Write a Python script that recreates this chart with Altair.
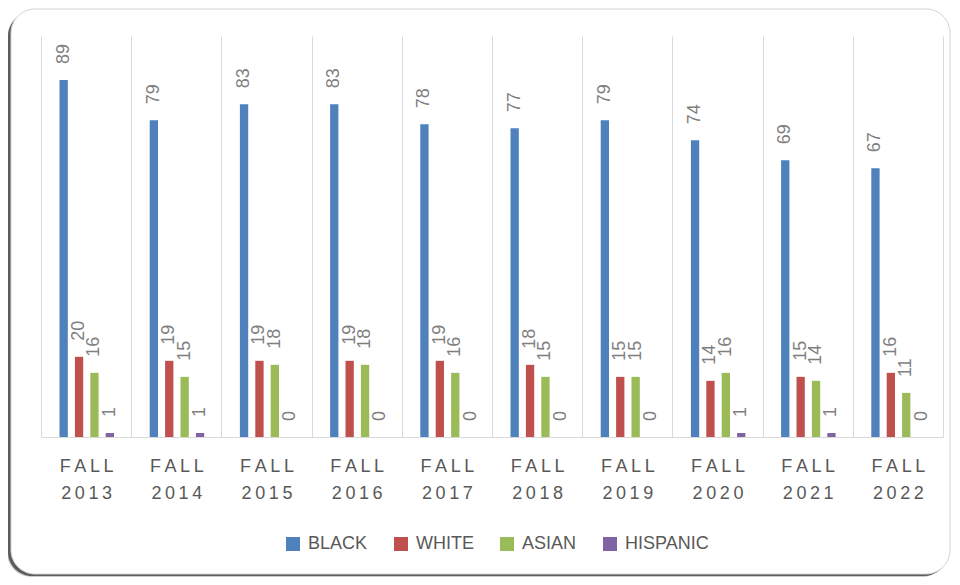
import altair as alt
import pandas as pd

categories = ["FALL 2013", "FALL 2014", "FALL 2015", "FALL 2016", "FALL 2017",
              "FALL 2018", "FALL 2019", "FALL 2020", "FALL 2021", "FALL 2022"]
series = ["BLACK", "WHITE", "ASIAN", "HISPANIC"]
black = [89, 79, 83, 83, 78, 77, 79, 74, 69, 67]
white = [20, 19, 19, 19, 19, 18, 15, 14, 15, 16]
asian = [16, 15, 18, 18, 16, 15, 15, 16, 14, 11]
hispanic = [1, 1, 0, 0, 0, 0, 0, 1, 1, 0]
colors = ["#4f81bd", "#c0504d", "#9bbb59", "#8064a2"]

rows = []
for name, vals in zip(series, [black, white, asian, hispanic]):
    for c, v in zip(categories, vals):
        rows.append({"term": c, "group": name, "value": v})
df = pd.DataFrame(rows)

W, H = 902, 401
FONT = "Liberation Sans"
TS = "\u2009"

frame_df = pd.DataFrame({"k": [0]})
shadow2 = alt.Chart(frame_df).mark_rect(color="#000000", opacity=0.2, cornerRadius=24).encode(
    x=alt.value(-34), x2=alt.value(W + 3), y=alt.value(-22), y2=alt.value(H + 140))
shadow1 = alt.Chart(frame_df).mark_rect(color="#000000", opacity=0.55, cornerRadius=24).encode(
    x=alt.value(-33), x2=alt.value(W + 5), y=alt.value(-24), y2=alt.value(H + 139))
frame = alt.Chart(frame_df).mark_rect(color="#ffffff", stroke="#d4d4d4", strokeWidth=1, cornerRadius=24).encode(
    x=alt.value(-30), x2=alt.value(W + 7), y=alt.value(-27), y2=alt.value(H + 137))

label_expr = ("indexof(datum.label, ' ') < 0 ? '' : "
              "[join(split(split(datum.label,' ')[0],''),'" + TS + "'), "
              "join(split(split(datum.label,' ')[1],''),'" + TS + "')]")

base = alt.Chart(df).encode(
    x=alt.X("term:N", sort=categories, title=None,
            scale=alt.Scale(paddingInner=0, paddingOuter=0),
            axis=alt.Axis(tickBand="extent", grid=True, gridColor="#d9d9d9", gridWidth=1,
                          ticks=False, domain=True, domainColor="#d9d9d9", domainWidth=1,
                          labelAngle=0, labelFontSize=18, labelFont=FONT, labelColor="#595959",
                          labelLineHeight=27, labelPadding=20, labelExpr=label_expr, zindex=1)),
    xOffset=alt.XOffset("group:N", sort=series,
                        scale=alt.Scale(range=[18.5, 73], paddingInner=0.46, paddingOuter=0)),
    y=alt.Y("value:Q", scale=alt.Scale(domain=[0, 100], nice=False), axis=None),
)

bars = base.mark_bar().encode(
    color=alt.Color("group:N", sort=series,
                    scale=alt.Scale(domain=series, range=colors),
                    legend=alt.Legend(title=None, orient="none", direction="horizontal",
                                      legendX=243, legendY=499, padding=0,
                                      symbolType="square", symbolSize=196, symbolStrokeWidth=0,
                                      labelFontSize=18, labelFont=FONT, labelColor="#595959",
                                      labelOffset=6, columnPadding=24))
)

labels = base.mark_text(angle=270, align="left", baseline="middle", dx=16,
                        fontSize=18, font=FONT, color="#7f7f7f").encode(
    text=alt.Text("value:Q")
)

chart = alt.layer(shadow2, shadow1, frame, bars, labels).properties(
    width=W, height=H,
    autosize=alt.AutoSizeParams(type="none"),
    padding={"left": 33, "top": 28, "right": 9, "bottom": 140},
    background="#ffffff",
).configure_view(stroke=None)

chart.save("out.html", embed_options={"renderer": "svg", "actions": False})
